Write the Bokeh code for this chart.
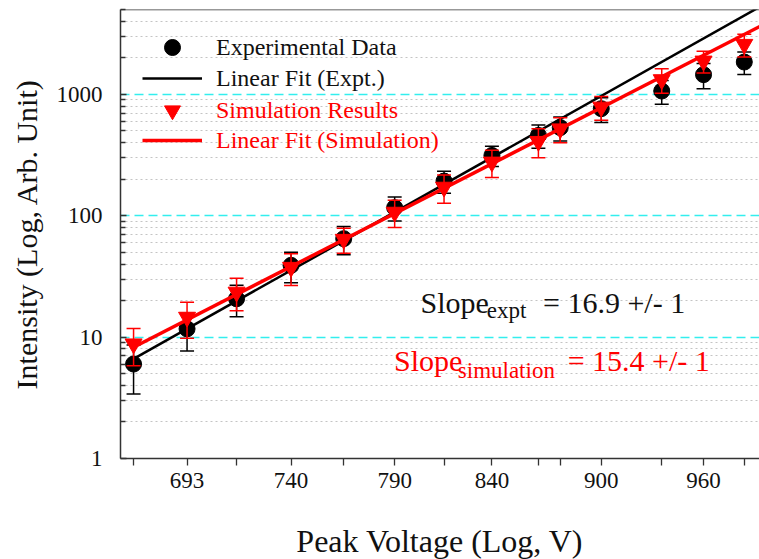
from bokeh.plotting import figure
from bokeh.models import (FixedTicker, NumeralTickFormatter, Whisker, TeeHead,
                          ColumnDataSource, Legend, LegendItem, Label, Span, Range1d)
from bokeh.embed import file_html
from bokeh.resources import INLINE

# ---------------- data ----------------
voltage = [670, 693, 715, 740, 765, 790, 815, 840, 865, 877, 900, 935, 960, 985]
expt = [6.0, 11.7, 20.7, 39, 64.7, 116.5, 193, 314, 459, 532, 762, 1065, 1453, 1846]
expt_err = [2.6, 4.0, 6.0, 11, 17, 26, 40, 60, 100, 120, 175, 235, 340, 390]
sim = [8.8, 14.6, 23.5, 37.6, 64, 107, 172, 277, 410, 520, 786, 1322, 1882, 2584]
sim_err = [3.0, 4.8, 7.0, 11, 15, 27, 45, 70, 110, 120, 175, 300, 380, 550]

expt_slope = 16.9
expt_at_800 = 132.5
sim_slope = 15.4
sim_at_800 = 126.6
fit_v = [670, 1000]

x_labels = [693, 740, 790, 840, 900, 960]
x_minor = [670, 715, 765, 815, 865, 877, 935, 985]
y_labels = [1, 10, 100, 1000]
y_minor = [m * 10 ** k for k in range(4) for m in range(2, 10)]

FONT = "Liberation Serif"
RED = "#ff0000"
INK = "#111111"

expt_fit = [expt_at_800 * (v / 800) ** expt_slope for v in fit_v]
sim_fit = [sim_at_800 * (v / 800) ** sim_slope for v in fit_v]

src_e = ColumnDataSource(dict(x=voltage, y=expt,
                              lo=[a - b for a, b in zip(expt, expt_err)],
                              hi=[a + b for a, b in zip(expt, expt_err)]))
src_s = ColumnDataSource(dict(x=voltage, y=sim,
                              lo=[a - b for a, b in zip(sim, sim_err)],
                              hi=[a + b for a, b in zip(sim, sim_err)]))

p = figure(frame_width=639, frame_height=449, x_axis_type="log", y_axis_type="log",
           x_range=Range1d(664.5, 994.5), y_range=Range1d(1, 5000),
           output_backend="svg", toolbar_location=None,
           min_border_left=120, min_border_right=0, min_border_top=9, min_border_bottom=101)
p.outline_line_color = None
p.background_fill_color = "white"

# axes
xt = FixedTicker(ticks=x_labels, minor_ticks=x_minor)
yt = FixedTicker(ticks=y_labels, minor_ticks=y_minor)
p.xaxis.ticker = xt
p.yaxis.ticker = yt
p.ygrid.ticker = yt
p.xaxis.formatter = NumeralTickFormatter(format="0")
p.yaxis.formatter = NumeralTickFormatter(format="0")
for ax in (p.xaxis, p.yaxis):
    ax.axis_line_width = 1.5
    ax.axis_line_color = "#333333"
    ax.major_tick_line_color = "#333333"
    ax.minor_tick_line_color = "#333333"
    ax.major_tick_line_width = 1.3
    ax.minor_tick_line_width = 1.3
    ax.major_label_text_font = FONT
    ax.major_label_text_font_size = "23px"
    ax.major_label_text_color = INK
    ax.axis_label_text_font = FONT
    ax.axis_label_text_font_style = "normal"
    ax.axis_label_text_color = INK
p.xaxis.major_tick_in = 0
p.xaxis.major_tick_out = 7
p.xaxis.minor_tick_in = 0
p.xaxis.minor_tick_out = 7
p.xaxis.major_label_standoff = 7
p.xaxis.axis_label = "Peak Voltage (Log, V)"
p.xaxis.axis_label_text_font_size = "32px"
p.xaxis.axis_label_standoff = 32
p.yaxis.major_tick_in = 6
p.yaxis.major_tick_out = 0
p.yaxis.minor_tick_in = 5
p.yaxis.minor_tick_out = 0
p.yaxis.major_label_standoff = 18
p.yaxis.axis_label = "Intensity (Log, Arb. Unit)"
p.yaxis.axis_label_text_font_size = "30px"
p.yaxis.axis_label_standoff = 11

p.xgrid.visible = False
p.ygrid.grid_line_color = "#33eeee"
p.ygrid.grid_line_dash = "9 5"
p.ygrid.grid_line_width = 1.3
p.ygrid.minor_grid_line_color = "#c4c4c4"
p.ygrid.minor_grid_line_dash = "2 3"
p.ygrid.minor_grid_line_width = 1.2

p.add_layout(Span(location=5000, dimension="width", line_color="#333333", line_width=1.5))

# glyphs
r_el = p.line(fit_v, expt_fit, line_color="black", line_width=2.5)
p.add_layout(Whisker(source=src_e, base="x", lower="lo", upper="hi", dimension="height",
                     line_color="black", line_width=1.5,
                     upper_head=TeeHead(size=14, line_color="black", line_width=1.5),
                     lower_head=TeeHead(size=14, line_color="black", line_width=1.5)))
r_ec = p.scatter("x", "y", source=src_e, marker="circle", size=16,
                 fill_color="black", line_color="black")
r_sl = p.line(fit_v, sim_fit, line_color=RED, line_width=3.5)
r_sc = p.scatter("x", "y", source=src_s, marker="inverted_triangle", size=17,
                 fill_color=RED, line_color=RED)
ws = Whisker(source=src_s, base="x", lower="lo", upper="hi", dimension="height",
             line_color=RED, line_width=1.5,
             upper_head=TeeHead(size=14, line_color=RED, line_width=1.5),
             lower_head=TeeHead(size=14, line_color=RED, line_width=1.5))
ws.level = "glyph"
p.add_layout(ws)

# legends (one per entry so that colours and row positions match)
def add_legend(label, renderer, loc, color):
    lg = Legend(items=[LegendItem(label=label, renderers=[renderer])], location=loc,
                glyph_width=60, glyph_height=40, label_height=40, spacing=0,
                padding=0, margin=0, label_standoff=14,
                border_line_color=None, background_fill_alpha=0,
                label_text_font=FONT, label_text_font_size="24px",
                label_text_color=color)
    p.add_layout(lg)

add_legend("Experimental Data", r_ec, (22, 391), INK)
add_legend("Linear Fit (Expt.)", r_el, (22, 360), INK)
add_legend("Simulation Results", r_sc, (22, 328), RED)
add_legend("Linear Fit (Simulation)", r_sl, (22, 298), RED)

# slope annotations
def lab(x, y, t, size, color):
    p.add_layout(Label(x=x, y=y, text=t, text_font=FONT, text_font_size=size,
                       text_color=color, text_baseline="alphabetic"))

lab(803.0, 19.4, "Slope", "30px", INK)
lab(837.3, 16.6, "expt", "23px", INK)
lab(867.5, 19.4, "= 16.9 +/- 1", "30px", INK)
lab(789.7, 6.42, "Slope", "30px", RED)
lab(822.1, 5.31, "simulation", "23px", RED)
lab(881.1, 6.42, "= 15.4 +/- 1", "30px", RED)

open("out.html", "w").write(file_html(p, INLINE))
